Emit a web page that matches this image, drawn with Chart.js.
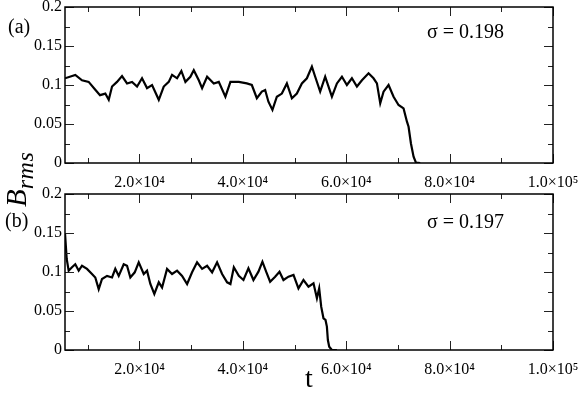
<!DOCTYPE html>
<html>
<head>
<meta charset="utf-8">
<script src="https://cdn.jsdelivr.net/npm/chart.js@4/dist/chart.umd.min.js"></script>
<style>
  html, body { margin: 0; padding: 0; background: #fff; }
  body { width: 581px; height: 397px; position: relative; overflow: hidden; }
  .panel { position: absolute; left: 0; }
  #ylab { position: absolute; font-family: 'Liberation Serif', 'Times New Roman', serif; font-style: italic;
          color: #000; white-space: nowrap; transform-origin: 0 0; transform: rotate(-90deg); line-height: 1; }
  #ylab .big { font-size: 29px; }
  #ylab sub { font-size: 24px; vertical-align: -7px; letter-spacing: 0.5px; }
</style>
</head>
<body>
<div class="panel" style="top:0;width:581px;height:190px"><canvas id="cA" width="581" height="190"></canvas></div>
<div class="panel" style="top:180px;width:581px;height:217px"><canvas id="cB" width="581" height="217"></canvas></div>
<div id="ylab" style="left:2px;top:207px"><span class="big">B</span><sub>rms</sub></div>
<script>
// ---------- data ----------
const topT = [5600, 7590, 8890, 10180, 11460, 12370, 13400, 14060, 14700, 15660, 16630, 17600, 18570, 19540,
  20500, 21470, 22440, 23740, 24700, 25670, 26310, 27280, 28110, 28890, 29850, 30510, 31480, 32120, 33090,
  34380, 35350, 36630, 37600, 39220, 40770, 41740, 42710, 43680, 44320, 44950, 45730, 46580, 47550, 48520,
  49490, 50450, 51420, 52390, 53360, 54000, 54960, 55930, 57230, 58200, 59170, 60130, 61100, 62070, 63040,
  64320, 65280, 65940, 66580, 67220, 68190, 69160, 70120, 71090, 71750, 72060, 72520, 73030, 73490, 74320];
const topB = [0.1086, 0.113, 0.106, 0.104, 0.094, 0.087, 0.089, 0.081, 0.098, 0.104, 0.1115, 0.102, 0.104, 0.098,
  0.1086, 0.096, 0.100, 0.081, 0.098, 0.104, 0.113, 0.1086, 0.118, 0.104, 0.1106, 0.119, 0.106, 0.096, 0.1106,
  0.102, 0.104, 0.085, 0.104, 0.104, 0.102, 0.100, 0.083, 0.0915, 0.0936, 0.0786, 0.068, 0.085, 0.089, 0.102,
  0.083, 0.089, 0.102, 0.1086, 0.1235, 0.1106, 0.0915, 0.1106, 0.085, 0.102, 0.1106, 0.100, 0.1086, 0.098, 0.106,
  0.115, 0.1086, 0.102, 0.0765, 0.0915, 0.100, 0.085, 0.0744, 0.070, 0.053, 0.0465, 0.025, 0.008, 0.0004, 0];

const botT = [5600, 5930, 6310, 6950, 7590, 8250, 8890, 9860, 10820, 11460, 12120, 12760, 13730, 14700, 15330,
  15990, 16960, 17600, 18240, 19090, 19860, 20830, 21470, 22110, 22880, 23740, 24380, 25340, 26310, 27280,
  28250, 29220, 30180, 31150, 32120, 33090, 34060, 35020, 35990, 36960, 37600, 38260, 39220, 40120, 41080,
  42050, 43020, 43790, 44510, 45280, 46250, 47090, 47860, 48830, 49800, 50760, 51730, 52700, 53670, 54330,
  54770, 55160, 55600, 55990, 56260, 56450, 56710, 57230, 58200];
const botB = [0.150, 0.1167, 0.1017, 0.106, 0.110, 0.1017, 0.108, 0.104, 0.0974, 0.093, 0.078, 0.091, 0.095,
  0.093, 0.104, 0.095, 0.110, 0.108, 0.093, 0.0996, 0.1124, 0.0974, 0.1017, 0.0846, 0.0718, 0.0868, 0.080,
  0.104, 0.0974, 0.1017, 0.095, 0.0846, 0.0996, 0.1124, 0.104, 0.108, 0.0996, 0.1124, 0.0974, 0.0868, 0.0846,
  0.106, 0.095, 0.0897, 0.1047, 0.0897, 0.1004, 0.1132, 0.1004, 0.0876, 0.094, 0.1004, 0.0897, 0.094, 0.0962,
  0.079, 0.0897, 0.0812, 0.0855, 0.0662, 0.079, 0.0556, 0.0406, 0.0385, 0.030, 0.0128, 0.0043, 0, 0];

const xMajorTicks = [20000, 40000, 60000, 80000, 100000];
const xTickLabels = ['2.0×10⁴', '4.0×10⁴', '6.0×10⁴', '8.0×10⁴', '1.0×10⁵'];
const xMinorTicks = [10000, 30000, 50000, 70000, 90000];
const yMajorTicks = [0, 0.05, 0.1, 0.15, 0.2];
const yTickLabels = ['0', '0.05', '0.1', '0.15', '0.2'];
const yMinorTicks = [0.025, 0.075, 0.125, 0.175];
const panelLabels = ['(a)', '(b)'];
const sigmaLabels = ['σ = 0.198', 'σ = 0.197'];
const xTitle = 't';

// ---------- styling ----------
const SERIF = "'Liberation Serif', 'Times New Roman', serif";
Chart.defaults.font.family = SERIF;
Chart.defaults.font.size = 16;
Chart.defaults.color = '#000';

const framePlugin = {
  id: 'frame',
  afterDatasetsDraw(chart, args, opts) {
    const { ctx, chartArea: a, scales } = chart;
    ctx.save();
    ctx.strokeStyle = '#222';
    ctx.lineWidth = 1;
    const xs = scales.x, ys = scales.y;
    const xt = (v, len) => {
      const p = Math.round(xs.getPixelForValue(v)) + 0.5;
      ctx.beginPath(); ctx.moveTo(p, a.bottom); ctx.lineTo(p, a.bottom - len);
      ctx.moveTo(p, a.top); ctx.lineTo(p, a.top + len); ctx.stroke();
    };
    const yt = (v, len) => {
      const p = Math.round(ys.getPixelForValue(v)) + 0.5;
      ctx.beginPath(); ctx.moveTo(a.left, p); ctx.lineTo(a.left + len, p);
      ctx.moveTo(a.right, p); ctx.lineTo(a.right - len, p); ctx.stroke();
    };
    xMajorTicks.forEach(v => xt(v, 9));
    xMinorTicks.forEach(v => xt(v, 5));
    yMajorTicks.forEach(v => yt(v, 9));
    yMinorTicks.forEach(v => yt(v, 5));
    ctx.strokeStyle = '#000';
    ctx.lineWidth = 1.5;
    ctx.strokeRect(a.left, a.top, a.right - a.left, a.bottom - a.top);
    // annotations
    ctx.fillStyle = '#000';
    ctx.textBaseline = 'alphabetic';
    ctx.textAlign = 'left';
    ctx.font = '20px ' + SERIF;
    ctx.fillText(opts.panel, opts.px, opts.py);
    ctx.fillText(opts.sigma, opts.sx, opts.sy);
    ctx.restore();
  }
};

function makeChart(id, T, B, o) {
  return new Chart(document.getElementById(id), {
    type: 'line',
    data: { datasets: [{ data: T.map((t, i) => ({ x: t, y: B[i] })), borderColor: '#000', borderWidth: 2.2,
      pointRadius: 0, tension: 0, fill: false }] },
    options: {
      responsive: false, animation: false, devicePixelRatio: 1,
      layout: { padding: { top: o.top, right: 28, left: 0, bottom: 0 } },
      plugins: { legend: { display: false }, tooltip: { enabled: false },
        frame: { panel: o.panel, px: o.px, py: o.py, sigma: o.sigma, sx: 427, sy: o.sy } },
      scales: {
        x: {
          type: 'linear', min: 5600, max: 100000,
          grid: { display: false, drawTicks: false }, border: { display: false },
          afterBuildTicks: s => { s.ticks = xMajorTicks.map(v => ({ value: v })); },
          afterFit: s => { s.height = o.xh; s.paddingLeft = 0; s.paddingRight = 0; },
          ticks: { autoSkip: false, maxRotation: 0, padding: 10, font: { size: 16 },
            callback: (v, i) => xTickLabels[i] },
          title: o.title ? { display: true, text: xTitle, font: { size: 28 }, padding: { top: 0, bottom: 1 } } : { display: false }
        },
        y: {
          min: 0, max: 0.2,
          grid: { display: false, drawTicks: false }, border: { display: false },
          afterBuildTicks: s => { s.ticks = yMajorTicks.map(v => ({ value: v })); },
          afterFit: s => { s.width = 65; s.paddingTop = 0; s.paddingBottom = 0; },
          ticks: { padding: 3, font: { size: 16 }, callback: (v, i) => yTickLabels[i] }
        }
      }
    },
    plugins: [framePlugin]
  });
}

makeChart('cA', topT, topB, { top: 7, xh: 27, panel: panelLabels[0], px: 8, py: 33, sigma: sigmaLabels[0], sy: 38, title: false });
makeChart('cB', botT, botB, { top: 14, xh: 47, panel: panelLabels[1], px: 5, py: 47, sigma: sigmaLabels[1], sy: 48, title: true });
</script>
</body>
</html>
